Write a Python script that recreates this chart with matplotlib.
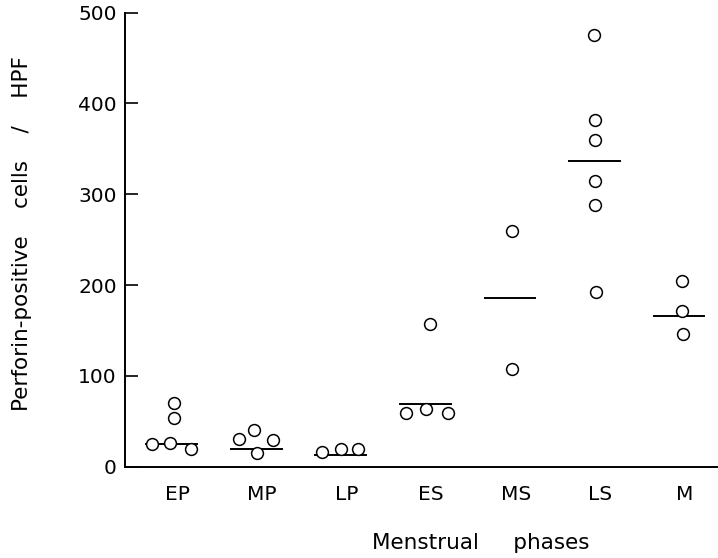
import matplotlib
matplotlib.use("Agg")
import matplotlib.pyplot as plt
import numpy as np

categories = ["EP", "MP", "LP", "ES", "MS", "LS", "M"]
values = [
    [25, 26, 70, 54, 20],
    [30, 40, 29, 15],
    [16, 19, 20],
    [59, 64, 59, 157],
    [260, 108],
    [475, 382, 360, 315, 288, 192],
    [204, 171, 146],
]
# horizontal spread of the points within each phase (dot-plot side-by-side placement)
spread = [
    [-0.23, -0.02, 0.03, 0.03, 0.23],
    [-0.20, -0.02, 0.20, 0.01],
    [-0.22, 0.0, 0.20],
    [-0.23, 0.01, 0.27, 0.05],
    [0.02, 0.02],
    [0.0, 0.01, 0.01, 0.01, 0.01, 0.02],
    [0.03, 0.03, 0.05],
]
group_lines = [25, 19, 13, 69, 186, 336, 166]

yticks = [0, 100, 200, 300, 400, 500]

plt.rcParams["font.family"] = ["DejaVu Sans"]

fig = plt.figure(figsize=(7.18, 5.58), dpi=100)
ax = fig.add_axes([124.5 / 718, (558 - 466.7) / 558, 1 - 124.5 / 718, 454.2 / 558])

for i, (vals, offs) in enumerate(zip(values, spread)):
    xs = i + np.array(offs)
    ax.plot(xs, vals, linestyle="none", marker="o", markersize=8.5,
            markerfacecolor="white", markeredgecolor="black",
            markeredgewidth=1.1, clip_on=False, zorder=3)
    ax.plot([i - 0.30, i + 0.30], [group_lines[i], group_lines[i]],
            color="black", linewidth=1.4, zorder=2)

ax.set_xlim(-0.556, 6.46)
ax.set_ylim(0, 500)
ax.set_yticks(yticks)
ax.set_yticklabels([str(t) for t in yticks], fontsize=14.5)
ax.set_xticks(np.arange(len(categories)) + 0.07)
ax.set_xticklabels(categories, fontsize=14.5)

for s in ["top", "right"]:
    ax.spines[s].set_visible(False)
for s in ["left", "bottom"]:
    ax.spines[s].set_linewidth(1.4)

ax.tick_params(axis="y", direction="in", length=9.5, width=1.2, pad=5.5)
ax.tick_params(axis="x", length=0, pad=13)

fig.text(481 / 718, (558 - 543) / 558, "Menstrual     phases", fontsize=15.5,
         ha="center", va="center")
fig.text(22 / 718, (558 - 234) / 558, "Perforin-positive    cells    /    HPF",
         fontsize=15.5, ha="center", va="center", rotation=90)

fig.savefig("out.png", dpi=100)
